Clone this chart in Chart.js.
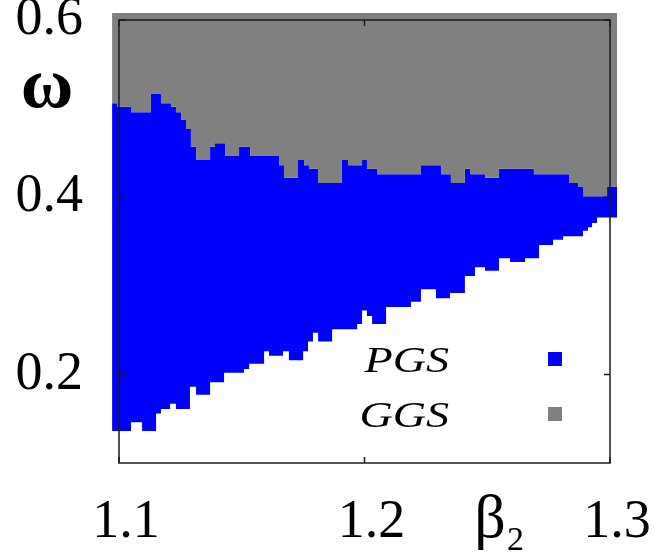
<!DOCTYPE html>
<html>
<head>
<meta charset="utf-8">
<script src="https://cdn.jsdelivr.net/npm/chart.js@4.4.1/dist/chart.umd.min.js"></script>
<style>
  html, body { margin: 0; padding: 0; background: #fff; }
  #wrap { width: 654px; height: 555px; }
</style>
</head>
<body>
<div id="wrap"><canvas id="chart" width="654" height="555"></canvas></div>
<script>
// Upper edge of the PGS (blue) region; GGS (grey) lies above it
const upperX = [1.0972, 1.0992, 1.1049, 1.1130, 1.1171, 1.1212, 1.1232, 1.1253, 1.1273, 1.1293,
  1.1314, 1.1371, 1.1391, 1.1432, 1.1489, 1.1534, 1.1652, 1.1672, 1.1729, 1.1754,
  1.1774, 1.1811, 1.1908, 1.1933, 1.1990, 1.2010, 1.2051, 1.2230, 1.2312, 1.2352,
  1.2409, 1.2430, 1.2491, 1.2548, 1.2690, 1.2833, 1.2870, 1.2890, 1.2988, 1.3029];
const upperY = [0.506, 0.502, 0.496, 0.517, 0.506, 0.502, 0.496, 0.487, 0.477, 0.457,
  0.442, 0.457, 0.461, 0.447, 0.457, 0.447, 0.436, 0.422, 0.442, 0.436,
  0.432, 0.416, 0.442, 0.436, 0.442, 0.432, 0.426, 0.436, 0.426, 0.416,
  0.432, 0.426, 0.422, 0.432, 0.426, 0.416, 0.412, 0.401, 0.412, 0.412];

// Lower edge of the PGS region; white below it
const lowerX = [1.0972, 1.1049, 1.1094, 1.1151, 1.1171, 1.1208, 1.1232, 1.1289, 1.1314, 1.1371,
  1.1428, 1.1509, 1.1530, 1.1591, 1.1611, 1.1668, 1.1692, 1.1750, 1.1770, 1.1790,
  1.1811, 1.1868, 1.1970, 1.1990, 1.2010, 1.2031, 1.2088, 1.2189, 1.2230, 1.2291,
  1.2348, 1.2409, 1.2450, 1.2491, 1.2548, 1.2593, 1.2654, 1.2711, 1.2768, 1.2809,
  1.2890, 1.2910, 1.2927, 1.2947, 1.3029];
const lowerY = [0.136, 0.146, 0.136, 0.156, 0.161, 0.167, 0.161, 0.186, 0.177, 0.191,
  0.202, 0.206, 0.212, 0.226, 0.221, 0.226, 0.216, 0.226, 0.237, 0.247,
  0.237, 0.251, 0.257, 0.272, 0.266, 0.257, 0.276, 0.282, 0.296, 0.286,
  0.292, 0.311, 0.321, 0.317, 0.331, 0.327, 0.331, 0.346, 0.352, 0.356,
  0.362, 0.366, 0.371, 0.377, 0.377];

const xTicks = [1.1, 1.2, 1.3];
const yTicks = [0.2, 0.4, 0.6];
const legendLabels = ['PGS', 'GGS'];
const BLUE = '#0000ff';
const GREY = '#808080';
const SERIF = '"Liberation Serif", "DejaVu Serif", serif';

const toPoints = (xs, ys) => xs.map((x, i) => ({ x, y: ys[i] }));

// no label overhang padding: the plot box is placed by hand
const noPad = s => { s.paddingTop = 0; s.paddingBottom = 0; s.paddingLeft = 0; s.paddingRight = 0; };

// frame, inward ticks, axis symbols and the key, gnuplot style
const decorations = {
  id: 'decorations',
  afterDatasetsDraw(chart) {
    const { ctx, scales: { x, y } } = chart;
    const l = x.getPixelForValue(1.1), r = x.getPixelForValue(1.3);
    const t = y.getPixelForValue(0.6), b = y.getPixelForValue(0.1);
    ctx.save();
    ctx.strokeStyle = '#1a1a1a';
    ctx.lineWidth = 1.5;
    ctx.strokeRect(l, t, r - l, b - t);
    ctx.beginPath();
    for (const v of xTicks) {
      const px = x.getPixelForValue(v);
      ctx.moveTo(px, b); ctx.lineTo(px, b - 6);
      ctx.moveTo(px, t); ctx.lineTo(px, t + 6);
    }
    for (const v of yTicks) {
      const py = y.getPixelForValue(v);
      ctx.moveTo(l, py); ctx.lineTo(l + 6, py);
      ctx.moveTo(r, py); ctx.lineTo(r - 6, py);
    }
    ctx.stroke();

    ctx.fillStyle = '#000';
    ctx.textAlign = 'center';
    ctx.textBaseline = 'alphabetic';
    ctx.font = 'bold 72px ' + SERIF;
    ctx.fillText('ω', 47, 107);
    ctx.font = '62px ' + SERIF;
    ctx.fillText('β', 490, 537);
    ctx.textAlign = 'left';
    ctx.font = '34px ' + SERIF;
    ctx.fillText('2', 507, 550);

    // key: text stretched a little wider, as in the source figure
    const keyColors = [BLUE, GREY];
    ctx.font = 'italic 36px ' + SERIF;
    ctx.textAlign = 'right';
    legendLabels.forEach((txt, i) => {
      const base = 372 + i * 55;
      ctx.save();
      ctx.translate(449, base);
      ctx.scale(1.28, 1);
      ctx.fillStyle = '#000';
      ctx.fillText(txt, 0, 0);
      ctx.restore();
      ctx.fillStyle = keyColors[i];
      ctx.fillRect(548, base - 20, 14, 14);
    });
    ctx.restore();
  }
};

new Chart(document.getElementById('chart'), {
  type: 'line',
  data: {
    datasets: [
      {
        label: 'GGS',
        data: toPoints(upperX, upperY),
        stepped: true,
        borderWidth: 0,
        pointRadius: 0,
        backgroundColor: GREY,
        fill: 'end'
      },
      {
        label: 'PGS',
        data: toPoints(lowerX, lowerY),
        stepped: true,
        borderWidth: 0,
        pointRadius: 0,
        backgroundColor: BLUE,
        fill: '-1'
      }
    ]
  },
  options: {
    responsive: false,
    animation: false,
    devicePixelRatio: 1,
    layout: { padding: { left: 0, right: 37, top: 13, bottom: 0 } },
    plugins: { legend: { display: false }, tooltip: { enabled: false } },
    scales: {
      x: {
        type: 'linear',
        min: 1.09715,
        max: 1.30285,
        afterBuildTicks: s => { s.ticks = xTicks.map(v => ({ value: v })); },
        afterFit: s => { s.height = 92; noPad(s); },
        grid: { display: false, drawTicks: false },
        border: { display: false },
        ticks: {
          color: '#000',
          font: { family: SERIF, size: 54 },
          padding: 27,
          labelOffset: 7,
          maxRotation: 0,
          callback: v => v.toFixed(1)
        }
      },
      y: {
        min: 0.1,
        max: 0.6079,
        afterBuildTicks: s => { s.ticks = yTicks.map(v => ({ value: v })); },
        afterFit: s => { s.width = 112; noPad(s); },
        grid: { display: false, drawTicks: false },
        border: { display: false },
        ticks: {
          color: '#000',
          font: { family: SERIF, size: 54 },
          padding: 29,
          callback: v => v.toFixed(1)
        }
      }
    }
  },
  plugins: [decorations]
});
</script>
</body>
</html>
